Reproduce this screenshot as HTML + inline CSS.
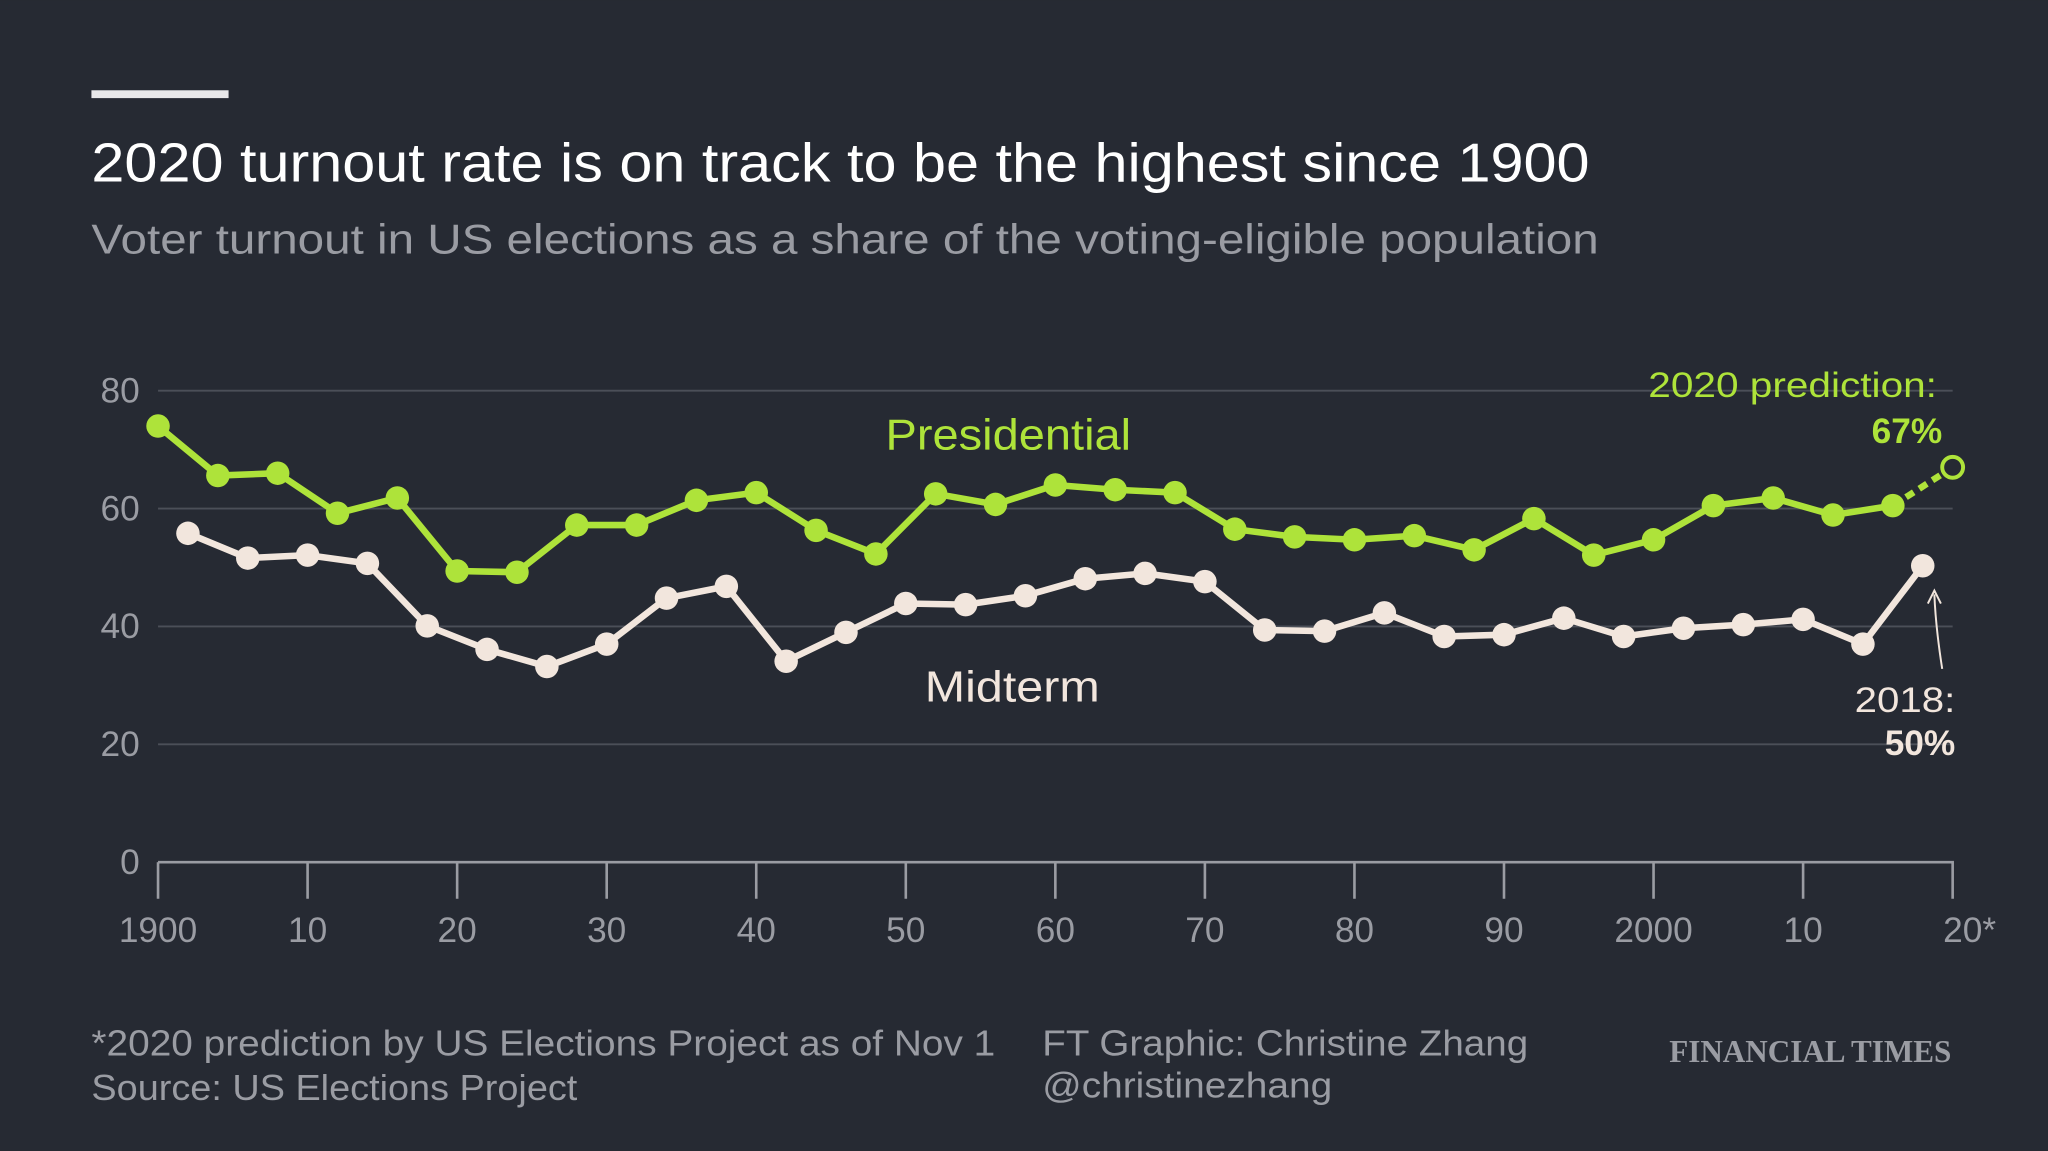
<!DOCTYPE html>
<html><head><meta charset="utf-8"><style>
html,body{margin:0;padding:0;background:#262a33;}
svg{display:block;font-family:"Liberation Sans",sans-serif;}
</style></head><body>
<svg id="chart" width="2048" height="1151" viewBox="0 0 1568 881" xmlns="http://www.w3.org/2000/svg">
<rect width="1568" height="881" fill="#262a33"/>
<rect x="70" y="69" width="105" height="6" fill="#e8e8ea"/>
<text x="70" y="139" font-size="42" fill="#ffffff" textLength="1147" lengthAdjust="spacingAndGlyphs">2020 turnout rate is on track to be the highest since 1900</text>
<text x="70" y="194" font-size="32" fill="#9a9ca3" textLength="1154" lengthAdjust="spacingAndGlyphs">Voter turnout in US elections as a share of the voting-eligible population</text>
<g id="grid"></g><g id="axes"></g><g id="series"></g>
<text x="678" y="344" font-size="33" fill="#aee33a" textLength="188" lengthAdjust="spacingAndGlyphs">Presidential</text>
<text x="708" y="537" font-size="33" fill="#f2e6dd" textLength="134" lengthAdjust="spacingAndGlyphs">Midterm</text>
<text x="1262" y="304" font-size="27" fill="#aee33a" textLength="221" lengthAdjust="spacingAndGlyphs">2020 prediction:</text>
<text x="1487" y="339" font-size="27" font-weight="bold" fill="#aee33a" text-anchor="end">67%</text>
<text x="1420" y="545" font-size="27" fill="#f2e6dd" textLength="77" lengthAdjust="spacingAndGlyphs">2018:</text>
<text x="1497" y="578" font-size="27" font-weight="bold" fill="#f2e6dd" text-anchor="end">50%</text>
<path d="M1487 512 Q1482 480 1481 455" stroke="#f2e6dd" stroke-width="1.5" fill="none"/>
<path d="M1476 462 L1481 452 L1486 462" stroke="#f2e6dd" stroke-width="1.5" fill="none"/>
<text x="70" y="808" font-size="28" fill="#9a9ca3" textLength="692" lengthAdjust="spacingAndGlyphs">*2020 prediction by US Elections Project as of Nov 1</text>
<text x="70" y="842" font-size="28" fill="#9a9ca3" textLength="372" lengthAdjust="spacingAndGlyphs">Source: US Elections Project</text>
<text x="798" y="808" font-size="28" fill="#9a9ca3" textLength="372" lengthAdjust="spacingAndGlyphs">FT Graphic: Christine Zhang</text>
<text x="798" y="840" font-size="28" fill="#9a9ca3" textLength="222" lengthAdjust="spacingAndGlyphs">@christinezhang</text>
<text x="1278" y="813" font-size="24" font-weight="bold" font-family="Liberation Serif,serif" fill="#9a9ca3" textLength="216" lengthAdjust="spacingAndGlyphs">FINANCIAL TIMES</text>
</svg>
<script>
const presYears=[1900,1904,1908,1912,1916,1920,1924,1928,1932,1936,1940,1944,1948,1952,1956,1960,1964,1968,1972,1976,1980,1984,1988,1992,1996,2000,2004,2008,2012,2016];
const presValues=[74.0,65.6,66.0,59.2,61.8,49.4,49.2,57.2,57.2,61.4,62.7,56.3,52.3,62.5,60.7,64.0,63.2,62.7,56.5,55.2,54.7,55.4,53.0,58.3,52.1,54.7,60.5,61.8,58.9,60.5];
const predYear=2020;
const predValue=67;
const midYears=[1902,1906,1910,1914,1918,1922,1926,1930,1934,1938,1942,1946,1950,1954,1958,1962,1966,1970,1974,1978,1982,1986,1990,1994,1998,2002,2006,2010,2014,2018];
const midValues=[55.8,51.6,52.1,50.7,40.1,36.1,33.2,37.0,44.8,46.8,34.1,39.0,43.9,43.7,45.2,48.1,49.0,47.6,39.4,39.2,42.3,38.3,38.6,41.4,38.3,39.7,40.3,41.2,37.0,50.3];
const yTicks=[0,20,40,60,80];
const xTicks=[1900,1910,1920,1930,1940,1950,1960,1970,1980,1990,2000,2010,2020];
const xTickLabels=['1900','10','20','30','40','50','60','70','80','90','2000','10','20*'];
const NS='http://www.w3.org/2000/svg';
const xs=y=>121+(y-1900)*(1374/120);
const ys=v=>660-v*4.5125;
function mk(tag,attrs,parent){const e=document.createElementNS(NS,tag);for(const k in attrs)e.setAttribute(k,attrs[k]);parent.appendChild(e);return e;}
const grid=document.getElementById('grid'),axes=document.getElementById('axes'),ser=document.getElementById('series');
yTicks.forEach(t=>{
  if(t>0){const l=mk('line',{x1:121,x2:1495,y1:ys(t),y2:ys(t),stroke:'#4b4f58','stroke-width':1.5},grid);
  
  }
  const tx=mk('text',{x:107,y:ys(t)+9,'font-size':27,fill:'#9a9ca3','text-anchor':'end'},axes);tx.textContent=t;
  
  
});
const ax=mk('line',{x1:121,x2:1496,y1:660,y2:660,stroke:'#9a9ca3','stroke-width':2},axes);


xTicks.forEach((t,i)=>{
  const tl=mk('line',{x1:xs(t),x2:xs(t),y1:660,y2:688,stroke:'#9a9ca3','stroke-width':2},axes);
  
  
  const tx=mk('text',{x:xs(t)+(i==12?13:0),y:721,'font-size':27,fill:'#9a9ca3','text-anchor':'middle'},axes);tx.textContent=xTickLabels[i];
  
  
});
function series(years,vals,color,name){
  const p=mk('polyline',{points:years.map((y,i)=>xs(y)+','+ys(vals[i])).join(' '),fill:'none',stroke:color,'stroke-width':5,'stroke-linejoin':'round'},ser);
  
  
  years.forEach((y,i)=>{const c=mk('circle',{cx:xs(y),cy:ys(vals[i]),r:9,fill:color},ser);
  
  });
}
const G='#aee33a',M='#f2e6dd';
series(midYears,midValues,M,'midterm');
series(presYears,presValues,G,'presidential');
const last=presYears.length-1;
const dl=mk('line',{x1:xs(presYears[last]),y1:ys(presValues[last]),x2:xs(predYear),y2:ys(predValue),stroke:G,'stroke-width':5,'stroke-dasharray':'7,5'},ser);


const pc=mk('circle',{cx:xs(predYear),cy:ys(predValue),r:8,fill:'#262a33',stroke:G,'stroke-width':3},ser);


</script>
</body></html>
